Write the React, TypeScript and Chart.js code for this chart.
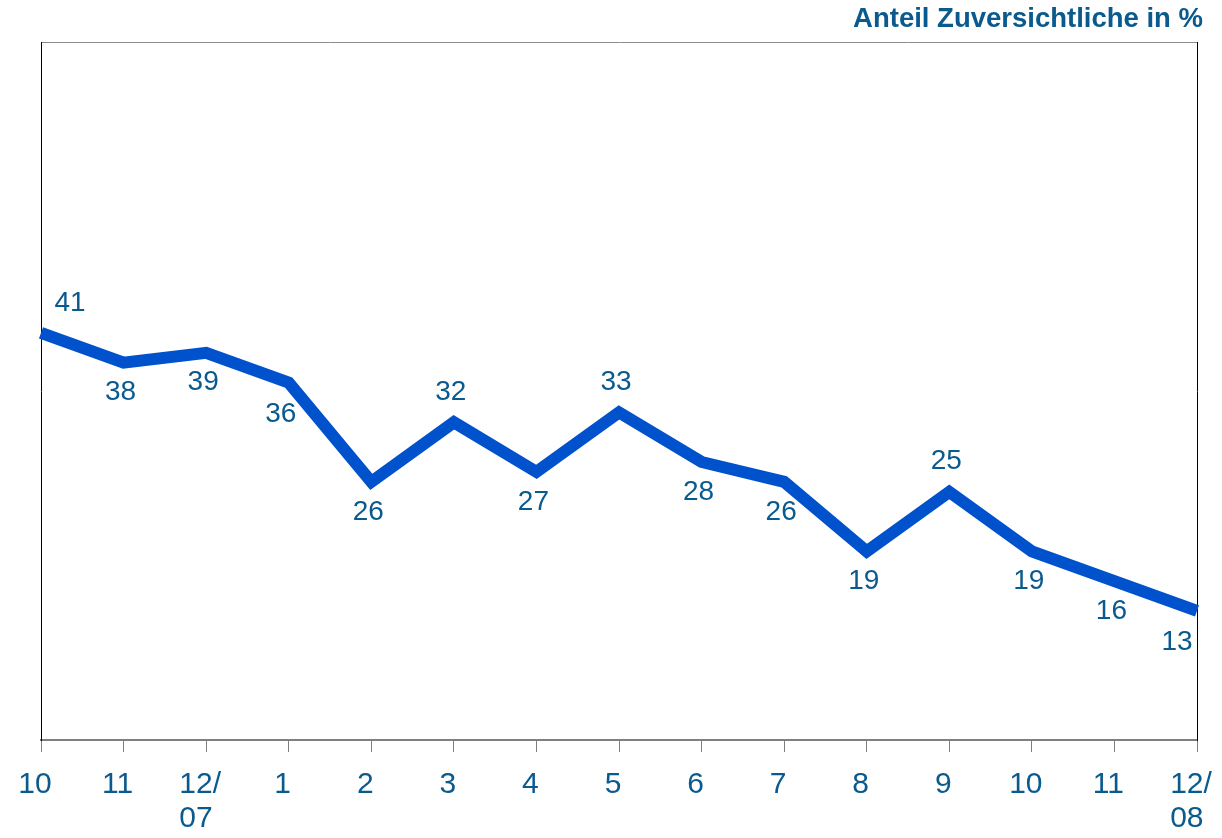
import React, { useEffect, useRef } from "react";
import { Chart, registerables } from "chart.js";

Chart.register(...registerables);

const categories: string[][] = [
  ["10"], ["11"], ["12/", "07 "], ["1"], ["2"], ["3"], ["4"], ["5"],
  ["6"], ["7"], ["8"], ["9"], ["10"], ["11"], ["12/", "08 "],
];
const zuversichtliche: number[] = [41, 38, 39, 36, 26, 32, 27, 33, 28, 26, 19, 25, 19, 16, 13];
const labelPlacement: string[] = [
  "aboveRight", "below", "below", "belowLeft", "below", "above", "below", "above",
  "below", "below", "below", "above", "below", "below", "belowFarLeft",
];
const titleText = "Anteil Zuversichtliche in %";

const TEXT_COLOR = "#0b5a8e";
const LINE_COLOR = "#0052cc";
const FONT = "'Liberation Sans', Arial, sans-serif";

const valueLabels = {
  id: "valueLabels",
  afterDatasetsDraw(chart: any) {
    const ctx = chart.ctx;
    const meta = chart.getDatasetMeta(0);
    ctx.save();
    ctx.font = `28px ${FONT}`;
    ctx.fillStyle = TEXT_COLOR;
    ctx.textAlign = "center";
    ctx.textBaseline = "middle";
    meta.data.forEach((pt: any, i: number) => {
      const p = labelPlacement[i];
      let dx = -3;
      let dy = 30;
      if (p === "above") dy = -30;
      if (p === "aboveRight") { dx = 29; dy = -30; }
      if (p === "belowLeft") { dx = -8; dy = 32; }
      if (p === "belowFarLeft") { dx = -20; dy = 31; }
      ctx.fillText(String(zuversichtliche[i]), pt.x + dx, pt.y + dy);
    });
    ctx.restore();
  },
};

export default function App() {
  const ref = useRef<HTMLCanvasElement | null>(null);
  useEffect(() => {
    if (!ref.current) return;
    const chart = new Chart(ref.current, {
      type: "line",
      data: {
        labels: categories,
        datasets: [
          {
            data: zuversichtliche,
            borderColor: LINE_COLOR,
            borderWidth: 12,
            pointRadius: 0,
            tension: 0,
            fill: false,
            borderJoinStyle: "miter",
          },
        ],
      },
      options: {
        responsive: false,
        animation: false,
        devicePixelRatio: 1,
        layout: { padding: { left: 41, right: 19, top: 0, bottom: 0 } },
        plugins: {
          legend: { display: false },
          tooltip: { enabled: false },
          title: {
            display: true,
            text: titleText,
            align: "end",
            color: TEXT_COLOR,
            font: { family: FONT, size: 27.5, weight: "bold" },
            padding: { top: 3, bottom: 6 },
          },
        },
        scales: {
          x: {
            type: "category",
            offset: false,
            grid: {
              display: true,
              drawOnChartArea: false,
              drawTicks: true,
              tickLength: 12,
              color: "#7f7f7f",
              lineWidth: 1,
            },
            border: { display: true, color: "#7f7f7f", width: 2 },
            ticks: {
              color: TEXT_COLOR,
              font: { family: FONT, size: 30, lineHeight: 1.15 },
              padding: 15,
              maxRotation: 0,
              autoSkip: false,
              labelOffset: -6,
            },
            afterFit: (s: any) => { s.height = 98; s.paddingLeft = 0; s.paddingRight = 0; },
          },
          x2: {
            type: "linear",
            position: "top",
            min: 0,
            max: 1,
            grid: { display: false },
            ticks: { display: false },
            border: { display: true, color: "#8c8c8c", width: 1 },
            afterFit: (s: any) => { s.height = 0; },
          },
          y: {
            min: 0,
            max: 70.3,
            grid: { display: false },
            ticks: { display: false },
            border: { display: true, color: "#000000", width: 1 },
            afterFit: (s: any) => { s.width = 0; },
          },
          y2: {
            type: "linear",
            position: "right",
            min: 0,
            max: 1,
            grid: { display: false },
            ticks: { display: false },
            border: { display: true, color: "#000000", width: 1 },
            afterFit: (s: any) => { s.width = 6; },
          },
        },
      },
      plugins: [valueLabels],
    } as any);
    return () => chart.destroy();
  }, []);
  return (
    <canvas
      ref={ref}
      width={1222}
      height={838}
      style={{ position: "fixed", left: 0, top: 0, width: 1222, height: 838, background: "#ffffff" }}
    />
  );
}
